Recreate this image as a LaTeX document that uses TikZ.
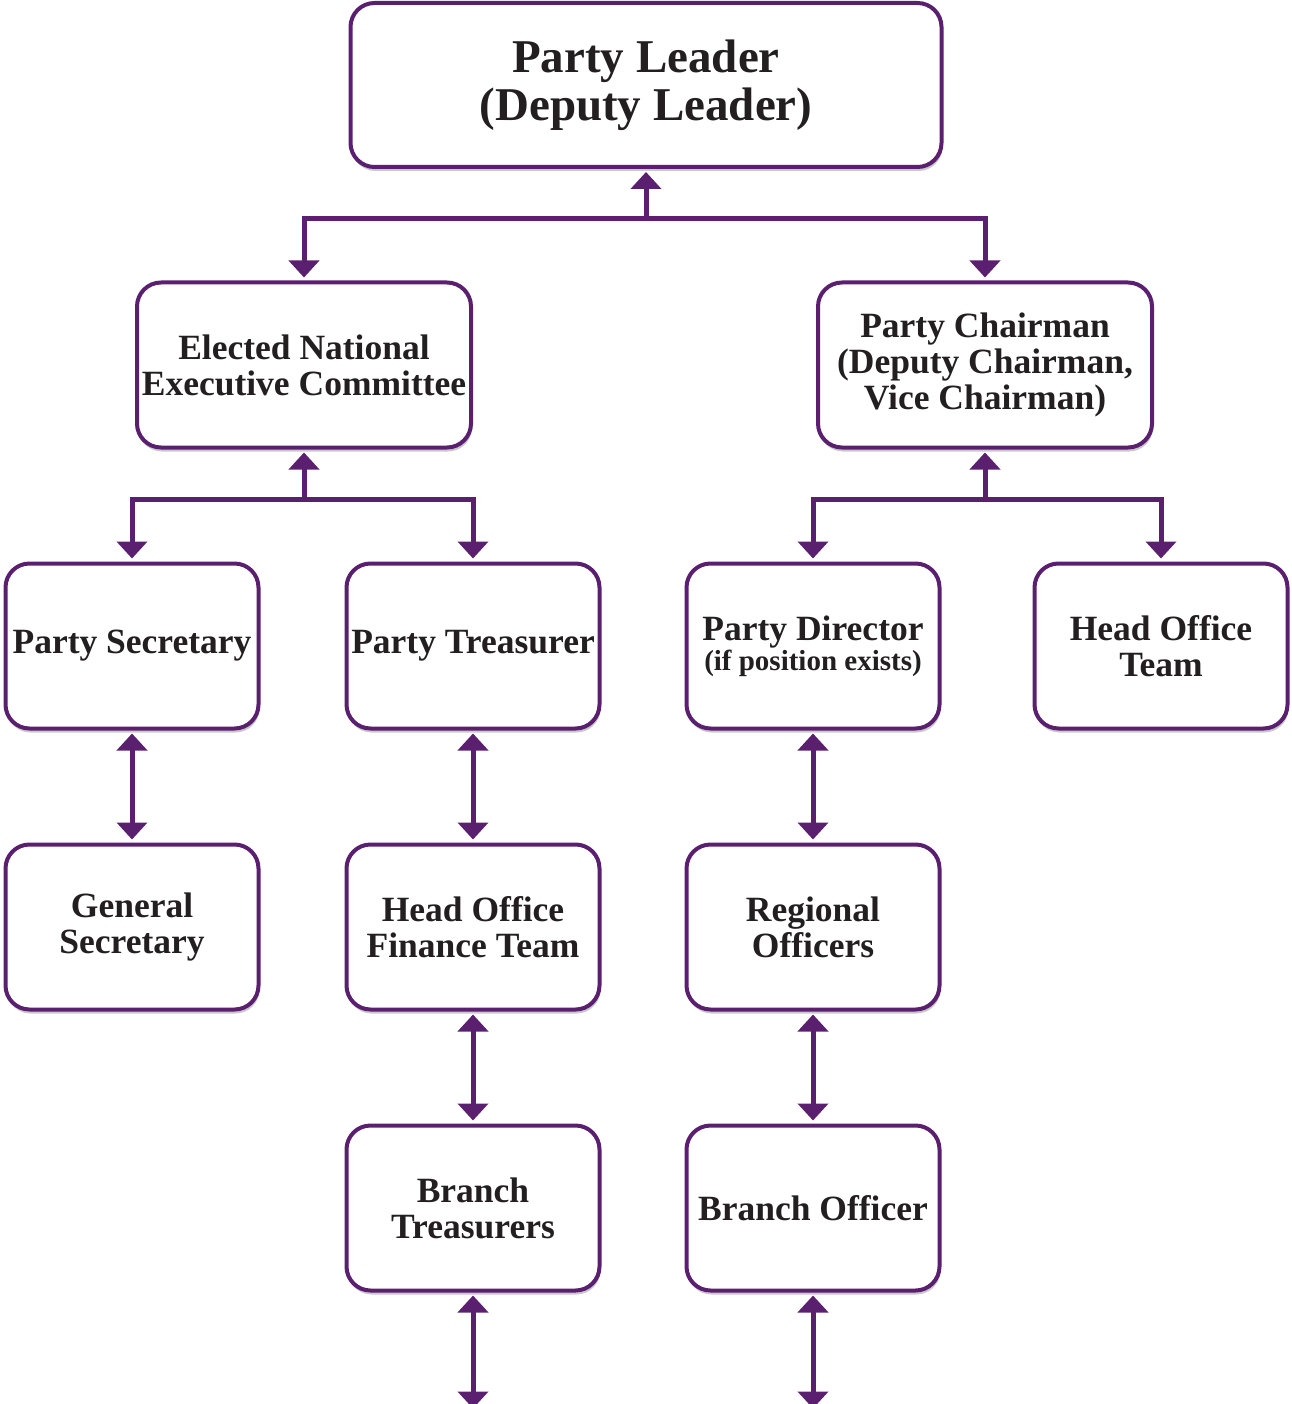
\documentclass[tikz,border=0pt]{standalone}
\usepackage{fontspec}
\setmainfont{Liberation Serif}
\usetikzlibrary{positioning}
\usetikzlibrary{arrows.meta,shadows,calc}
\definecolor{partypurple}{RGB}{91,31,112}
\definecolor{inkblack}{RGB}{35,31,32}

\begin{document}
\begin{tikzpicture}[x=1pt,y=-1pt,node distance=112pt,
        role/.style={rectangle,rounded corners=24pt,draw=partypurple,line width=4pt,fill=white,
            minimum width=253pt,minimum height=165pt,align=center,text=inkblack,
            font=\bfseries\fontsize{35.5}{36}\selectfont,
            drop shadow={shadow xshift=1pt,shadow yshift=-4pt,opacity=.3,fill=black!70}},
        widerole/.style={role,minimum width=334pt},
        arr/.style={line width=5pt,draw=partypurple,-{Triangle[width=30pt,length=17pt]},shorten >=3pt},
        twoway/.style={arr,{Triangle[width=30pt,length=17pt]}-{Triangle[width=30pt,length=17pt]},shorten <=3pt}
        ]
        \useasboundingbox (0,0) rectangle (1291,1404);
        \node (leader) [role,minimum width=591pt,minimum height=164pt,
            font=\bfseries\fontsize{47}{48}\selectfont] at (646,85) {Party Leader\\(Deputy Leader)};
        \node (enec)  [widerole] at (304,365) {Elected National\\Executive Committee};
        \node (chair) [widerole] at (985,365) {Party Chairman\\(Deputy Chairman,\\Vice Chairman)};
        \node (sec)   [role] at (132,646) {Party Secretary};
        \node (treas) [role] at (473,646) {Party Treasurer};
        \node (dir)   [role] at (813,646) {Party Director\\[-6pt]{\fontsize{29}{31}\selectfont(if position exists)}};
        \node (hoteam) [role] at (1161,646) {Head Office\\Team};
        \node (gensec) [role, below=of sec] {General\\Secretary};
        \node (hofin)  [role, below=of treas] {Head Office\\Finance Team};
        \node (reg)    [role, below=of dir] {Regional\\Officers};
        \node (btreas) [role, below=of hofin] {Branch\\Treasurers};
        \node (bofficer) [role, below=of reg] {Branch Officer};
        % junctions
        \coordinate (j1) at ($(leader.south)+(0,50)$);
        \coordinate (j2) at ($(enec.south)+(0,50)$);
        \coordinate (j3) at ($(chair.south)+(0,50)$);
        \coordinate (btEnd) at ($(btreas.south)+(0,116)$);
        \coordinate (boEnd) at ($(bofficer.south)+(0,116)$);
        \draw[arr] (j1) -- (leader.south);
        \draw[arr] (j1) -| (enec.north);
        \draw[arr] (j1) -| (chair.north);
        \draw[arr] (j2) -- (enec.south);
        \draw[arr] (j2) -| (sec.north);
        \draw[arr] (j2) -| (treas.north);
        \draw[arr] (j3) -- (chair.south);
        \draw[arr] (j3) -| (dir.north);
        \draw[arr] (j3) -| (hoteam.north);
        \draw[twoway] (sec) -- (gensec);
        \draw[twoway] (treas) -- (hofin);
        \draw[twoway] (dir) -- (reg);
        \draw[twoway] (hofin) -- (btreas);
        \draw[twoway] (reg) -- (bofficer);
        \draw[twoway,shorten >=0pt] (btreas) -- (btEnd);
        \draw[twoway,shorten >=0pt] (bofficer) -- (boEnd);
    \end{tikzpicture}
\end{document}
